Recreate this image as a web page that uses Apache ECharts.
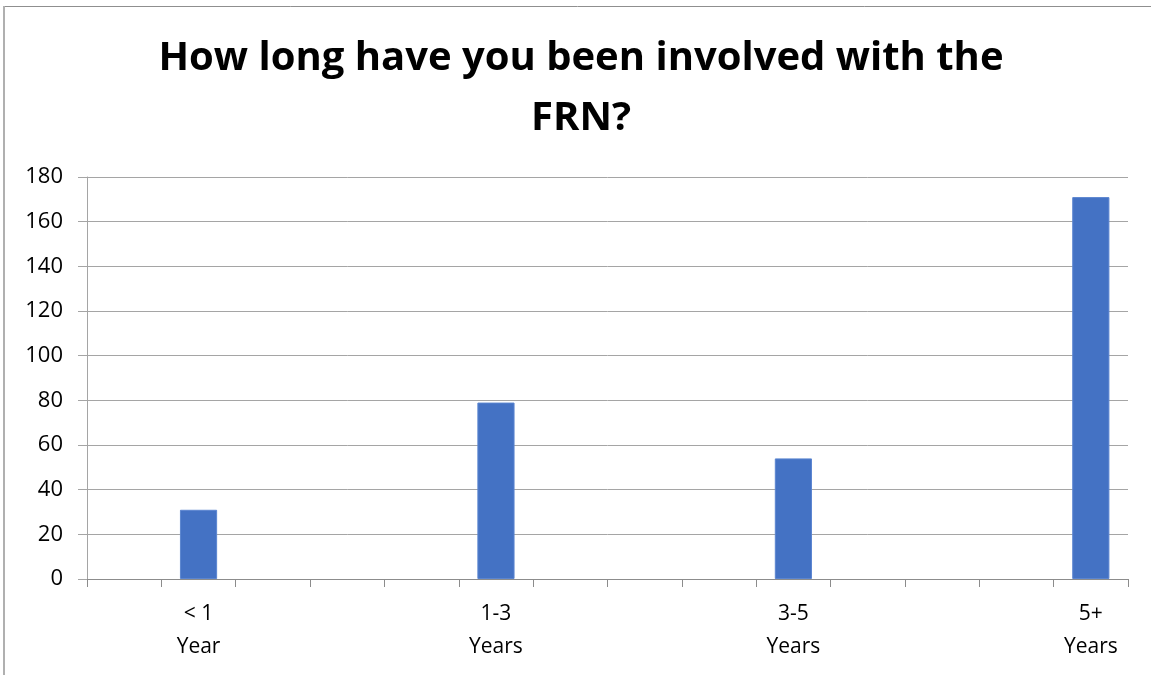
<!DOCTYPE html>
<html>
<head>
<meta charset="utf-8">
<script src="https://cdn.jsdelivr.net/npm/echarts@6/dist/echarts.min.js"></script>
<style>html,body{margin:0;padding:0;background:#fff}#c{width:1151px;height:675px}</style>
</head>
<body>
<div id="c"></div>
<script>
// 14 category slots as in the source chart (blank slots have no label and no value)
const categories = ['', '< 1 Year', '', '', '', '1-3 Years', '', '', '', '3-5 Years', '', '', '', '5+ Years'];
const values = [null, 31, null, null, null, 79, null, null, null, 54, null, null, null, 171];
const yTicks = { min: 0, max: 180, interval: 20 };
const titleText = 'How long have you been involved with the\nFRN?';

const chart = echarts.init(document.getElementById('c'), null, { renderer: 'canvas' });
const FONT = "'Open Sans', 'Noto Sans', sans-serif";
chart.setOption({
  backgroundColor: '#ffffff',
  animation: false,
  title: {
    text: titleText,
    left: 576,
    top: 24,
    textAlign: 'center',
    textStyle: { fontFamily: FONT, fontWeight: 'bold', fontSize: 40, lineHeight: 60, color: '#000' }
  },
  graphic: [
    { type: 'line', shape: { x1: 4, y1: 6.5, x2: 1151, y2: 6.5 }, style: { stroke: '#8f8f8f', lineWidth: 1 } },
    { type: 'line', shape: { x1: 4, y1: 6, x2: 4, y2: 675 }, style: { stroke: '#b0b0b0', lineWidth: 2 } }
  ],
  grid: { left: 87, right: 23, top: 177, bottom: 96, containLabel: false },
  xAxis: {
    type: 'category',
    data: categories,
    boundaryGap: true,
    axisLine: { show: true, lineStyle: { color: '#8c8c8c', width: 1 } },
    axisTick: { show: true, length: 8, interval: 0, lineStyle: { color: '#8c8c8c' } },
    axisLabel: {
      interval: 0,
      margin: 19,
      fontFamily: FONT,
      fontSize: 21,
      lineHeight: 33,
      color: '#000',
      formatter: v => v.replace(/ (\S+)$/, '\n$1')
    }
  },
  yAxis: {
    type: 'value',
    min: yTicks.min,
    max: yTicks.max,
    interval: yTicks.interval,
    axisLine: { show: true, lineStyle: { color: '#a5a5a5' } },
    axisTick: { show: true, length: 9, lineStyle: { color: '#a5a5a5' } },
    axisLabel: { margin: 24, fontFamily: FONT, fontSize: 22, color: '#000' },
    splitLine: { show: true, lineStyle: { color: '#a5a5a5', width: 1 } }
  },
  series: [{
    type: 'bar',
    data: values,
    barWidth: '50%',
    itemStyle: { color: '#4472C4', borderColor: '#5b85d0', borderWidth: 1 }
  }]
});
</script>
</body>
</html>
